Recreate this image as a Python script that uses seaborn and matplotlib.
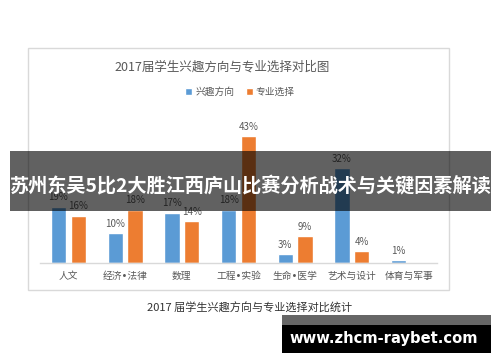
import matplotlib
matplotlib.use("Agg")
import matplotlib.pyplot as plt
from matplotlib.patches import Rectangle
import seaborn as sns
import pandas as pd

categories = ["人文", "经济•法律", "数理", "工程•实验", "生命•医学", "艺术与设计", "体育与军事"]
interest = [19, 10, 17, 18, 3, 32, 1]
choice = [16, 18, 14, 43, 9, 4, 0]
series_names = ["兴趣方向", "专业选择"]
colors = ["#5B9BD5", "#ED7D31"]

title = "2017届学生兴趣方向与专业选择对比图"
caption = "2017 届学生兴趣方向与专业选择对比统计"
banner = "苏州东吴5比2大胜江西庐山比赛分析战术与关键因素解读"
watermark = "www.zhcm-raybet.com"

df = pd.DataFrame({
    "类别": categories * 2,
    "系列": [series_names[0]] * len(categories) + [series_names[1]] * len(categories),
    "值": interest + choice,
})

sns.set_theme(style="white")
plt.rcParams["font.family"] = ["Noto Sans CJK SC", "DejaVu Sans"]

W, H = 500, 362
fig = plt.figure(figsize=(W / 100, H / 100), dpi=100)


def fx(x):
    return x / W


def fy(y):
    return 1 - y / H


# axes: x 40..437 px, baseline y 262.7, top y 110
ax_left, ax_right, ax_bottom, ax_top = 40, 437, 262.7, 110
ax = fig.add_axes([fx(ax_left), fy(ax_bottom), (ax_right - ax_left) / W, (ax_bottom - ax_top) / H])

sns.barplot(data=df, x="类别", y="值", hue="系列", palette=colors,
            width=0.7, gap=0.23, ax=ax, saturation=1)
ax.set_ylim(0, (ax_bottom - ax_top) / 2.95)
ax.set_xlim(-0.5, len(categories) - 0.5)

for cont in ax.containers:
    labels = [f"{int(v)}%" if v > 0 else "" for v in cont.datavalues]
    ax.bar_label(cont, labels=labels, padding=3, fontsize=7, color="#595959")

ax.set_xlabel("")
ax.set_ylabel("")
ax.set_yticks([])
for s in ["top", "right", "left"]:
    ax.spines[s].set_visible(False)
ax.spines["bottom"].set_color("#d9d9d9")
ax.spines["bottom"].set_linewidth(1)
ax.tick_params(axis="x", length=0, pad=6, labelsize=7, labelcolor="#595959")
for t in ax.get_xticklabels():
    t.set_family(["DejaVu Sans", "Noto Sans CJK SC"])
ax.patch.set_alpha(0)

sns.move_legend(ax, "center", bbox_to_anchor=(fx(240), fy(92)), bbox_transform=fig.transFigure,
                ncol=2, frameon=False, title=None, fontsize=7, handlelength=0.7, handleheight=0.7,
                handletextpad=0.3, columnspacing=1.2, labelcolor="#595959")

# chart frame
fig.add_artist(Rectangle((fx(27.5), fy(290)), (449 - 27.5) / W, (290 - 47.5) / H,
                         transform=fig.transFigure, fill=False, edgecolor="#d9d9d9", linewidth=1, zorder=-1))

fig.text(fx(222), fy(67), title, ha="center", va="center", fontsize=9, color="#595959")

# caption
fig.text(fx(250), fy(308), caption, ha="center", va="center", fontsize=8, color="#333333")

# banner overlay
fig.add_artist(Rectangle((fx(10), fy(211)), (491 - 10) / W, (211 - 151) / H,
                         transform=fig.transFigure, facecolor="black", alpha=0.62, edgecolor="none", zorder=10))
fig.text(fx(250), fy(185), banner, ha="center", va="center", fontsize=13.8, color="white",
         fontweight="bold", zorder=11)

# watermark
fig.add_artist(Rectangle((fx(282), fy(325)), (491 - 282) / W, (325 - 315) / H,
                         transform=fig.transFigure, facecolor="#666666", edgecolor="none", zorder=10))
fig.add_artist(Rectangle((fx(282), fy(353)), (491 - 282) / W, (353 - 325) / H,
                         transform=fig.transFigure, facecolor="black", edgecolor="none", zorder=10))
fig.text(fx(384), fy(339), watermark, ha="center", va="center", fontsize=10.6, color="white",
         fontweight="bold", family="DejaVu Sans", zorder=11)

fig.savefig("out.png", dpi=100)
